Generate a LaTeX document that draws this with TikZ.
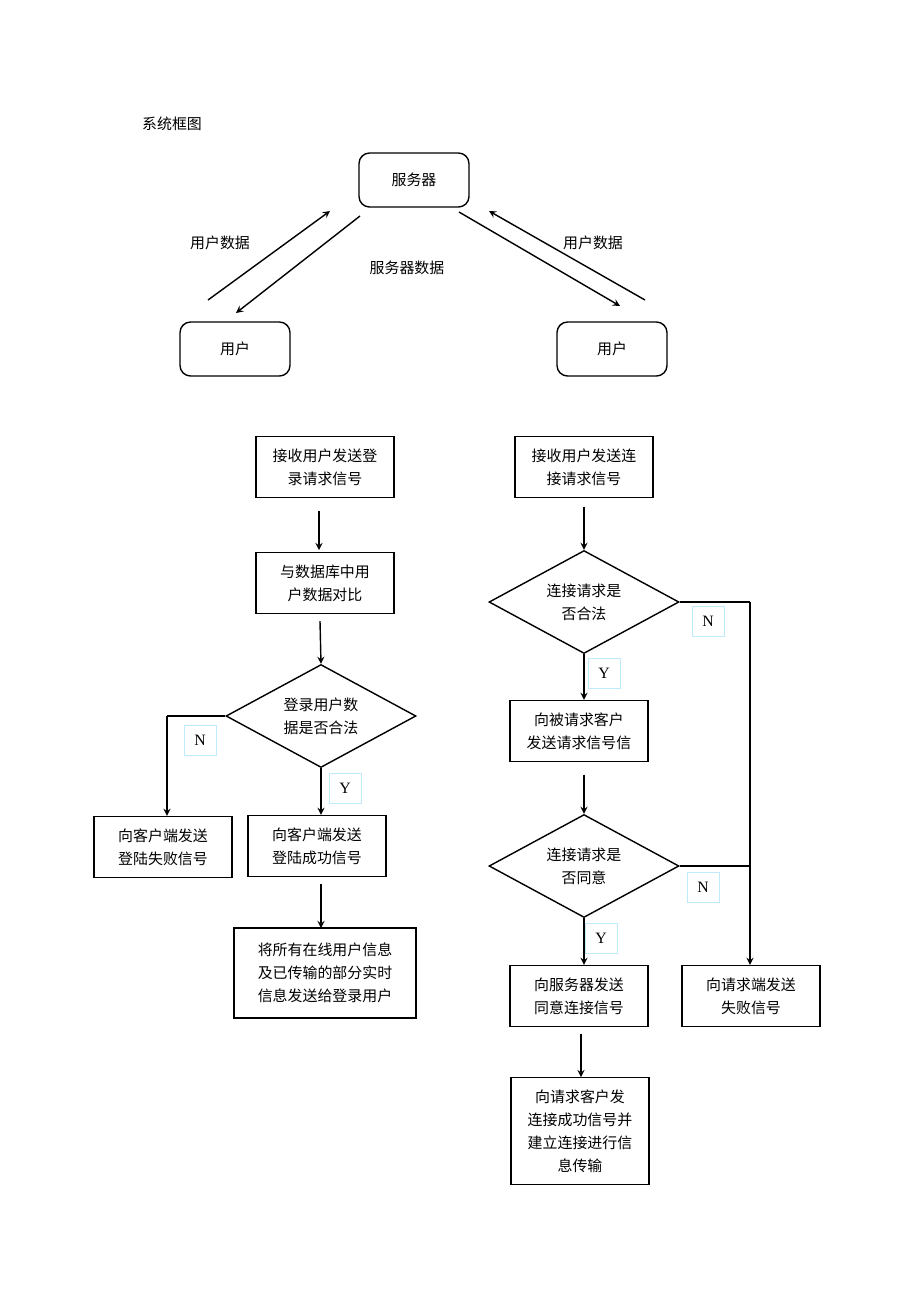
\documentclass[tikz,border=0pt]{standalone}
\usepackage{fontspec}
\setmainfont{Liberation Serif}
\newfontfamily\cjk{Noto Sans CJK SC}
\usetikzlibrary{shapes.geometric}
\tikzset{
  txt/.style={font=\cjk\fontsize{8.5}{13}\selectfont, align=center, inner sep=0pt},
  box/.style={txt, draw, thick, minimum width=2.76cm, minimum height=1.22cm},
  rbox/.style={txt, draw, thick, rounded corners=6pt, minimum width=2.2cm, minimum height=1.08cm},
  dia/.style={txt, draw, thick, diamond, aspect=1.8, minimum width=3.8cm, minimum height=2.06cm},
  yn/.style={draw=cyan!25, font=\fontsize{9}{10}\selectfont, minimum width=0.64cm, minimum height=0.6cm, inner sep=0pt},
  arr/.style={->, >=stealth, thick}
}
\begin{document}
\begin{tikzpicture}[x=0.02cm,y=-0.02cm]
\useasboundingbox (0,0) rectangle (920,1302);

% 系统框图
\node[txt] (title) at (172,124) {系统框图};
\node[rbox] (srv) at (414,180) {服务器};
\node[rbox] (ul) at (235,349) {用户};
\node[rbox] (ur) at (612,349) {用户};

\coordinate (a1) at (208,300); \coordinate (a2) at (330,211);
\coordinate (a3) at (360,216); \coordinate (a4) at (236,313);
\coordinate (b1) at (459,212); \coordinate (b2) at (620,306);
\coordinate (b3) at (645,300); \coordinate (b4) at (489,211);
\draw[arr] (a1) -- (a2);
\draw[arr] (a3) -- (a4);
\draw[arr] (b1) -- (b2);
\draw[arr] (b3) -- (b4);
\node[txt] (lud) at (220,243) {用户数据};
\node[txt] (lsd) at (407,268) {服务器数据};
\node[txt] (rud) at (593,243) {用户数据};

% 登录流程
\node[box] (l1) at (325,467) {接收用户发送登\\录请求信号};
\node[box] (l2) at (325,583) {与数据库中用\\户数据对比};
\node[dia] (ld) at (321,716) {登录用户数\\据是否合法};
\node[box] (lf) at (163,847) {向客户端发送\\登陆失败信号};
\node[box] (ls) at (317,846) {向客户端发送\\登陆成功信号};
\node[box, minimum width=3.64cm, minimum height=1.8cm] (lo) at (325,973) {将所有在线用户信息\\及已传输的部分实时\\信息发送给登录用户};
\node[yn] (ln) at (200,740) {N};
\node[yn] (ly) at (345,788) {Y};
\coordinate (lc) at (167,716);

\draw[arr] ([yshift=-7pt]l1.south -| 319,0) -- (319,550);
\draw[arr] ([yshift=-4pt]l2.south -| 320,0) -- (ld.north);
\draw[thick] (ld.west) -- (lc);
\draw[arr] (lc) -- (lc |- lf.north);
\draw[arr] (ld.south) -- (ld.south |- ls.north);
\draw[arr] ([yshift=-4pt]ls.south -| 321,0) -- (321,928);

% 连接流程
\node[box] (r1) at (584,467) {接收用户发送连\\接请求信号};
\node[dia] (rd1) at (584,602) {连接请求是\\否合法};
\node[box] (r2) at (579,731) {向被请求客户\\发送请求信号信};
\node[dia] (rd2) at (584,866) {连接请求是\\否同意};
\node[box] (rs) at (579,996) {向服务器发送\\同意连接信号};
\node[box] (rf) at (751,996) {向请求端发送\\失败信号};
\node[box, minimum height=2.14cm] (ro) at (580,1131) {向请求客户发\\连接成功信号并\\建立连接进行信\\息传输};
\node[yn] (rn1) at (708,621) {N};
\node[yn] (ry1) at (604,673) {Y};
\node[yn] (rn2) at (703,887) {N};
\node[yn] (ry2) at (601,938) {Y};
\coordinate (rc1) at (750,602);
\coordinate (rc2) at (750,866);

\draw[arr] ([yshift=-5pt]r1.south) -- (rd1.north);
\draw[arr] (rd1.south) -- (rd1.south |- r2.north);
\draw[arr] ([yshift=-7pt]r2.south -| 584,0) -- (rd2.north);
\draw[arr] (rd2.south) -- (rd2.south |- rs.north);
\draw[arr] ([yshift=-4pt]rs.south -| 581,0) -- (581,1077);
\draw[thick] (rd1.east) -- (rc1);
\draw[thick] (rd2.east) -- (rc2);
\draw[arr] (rc1) -- (rc1 |- rf.north);
\end{tikzpicture}
\end{document}
